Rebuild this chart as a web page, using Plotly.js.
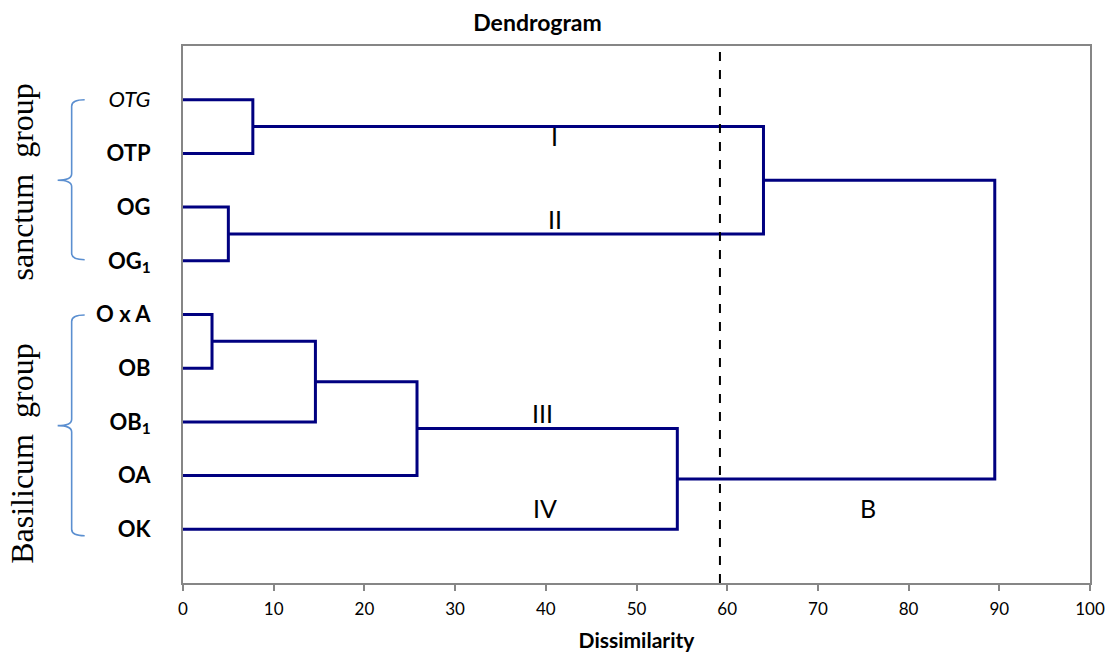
<!DOCTYPE html>
<html>
<head>
<meta charset="utf-8">
<script src="https://cdn.plot.ly/plotly-3.0.1.min.js"></script>
<style>html,body{margin:0;padding:0;background:#fff}#chart{width:1107px;height:652px}</style>
</head>
<body>
<div id="chart"></div>
<script>
// Leaves, top to bottom
const leafLabels = ['<i>OTG</i>','<b>OTP</b>','<b>OG</b>','<b>OG<sub>1</sub></b>','<b>O x A</b>','<b>OB</b>','<b>OB<sub>1</sub></b>','<b>OA</b>','<b>OK</b>'];
const leafPos = [9, 8, 7, 6, 5, 4, 3, 2, 1];
// Linkage: merge i joins nodes mergeA[i] and mergeB[i] at height mergeH[i]; new node id = 9 + i
const mergeA = [0, 2, 4, 11, 12, 13, 9, 15];
const mergeB = [1, 3, 5, 6, 7, 8, 10, 14];
const mergeH = [7.7, 5.0, 3.2, 14.6, 25.8, 54.5, 64.0, 89.5];
// Cut line
const cutLevel = 59.2;
// Cluster labels
const clusterText = ['I', 'II', 'III', 'IV', 'B'];
const clusterX = [41.0, 41.0, 39.6, 39.9, 75.5];
const clusterY = [8.33, 6.78, 3.17, 1.40, 1.40];
// Group labels
const groupText = ['sanctum  group', 'Basilicum  group'];

// Build dendrogram path
const nodeY = leafPos.slice();
const nodeH = leafPos.map(() => 0);
const xs = [], ys = [];
for (let i = 0; i < mergeA.length; i++) {
  const a = mergeA[i], b = mergeB[i], h = mergeH[i];
  xs.push(nodeH[a], h, h, nodeH[b], null);
  ys.push(nodeY[a], nodeY[a], nodeY[b], nodeY[b], null);
  nodeY.push((nodeY[a] + nodeY[b]) / 2);
  nodeH.push(h);
}

const trace = {
  x: xs, y: ys, mode: 'lines', type: 'scatter',
  line: {color: '#000080', width: 3}, hoverinfo: 'skip', showlegend: false
};

// Brace geometry (pixels -> paper x)
const plotL = 183.3, plotW = 906.7;
const px = p => (p - plotL) / plotW;
function brace(yTop, yMid, yBot) {
  const xa = px(85), xb = px(72), xc = px(58);
  const d = 0.12;
  return `M ${xa},${yTop} Q ${xb},${yTop} ${xb},${yTop - d} L ${xb},${yMid + d} Q ${xb},${yMid} ${xc},${yMid} ` +
         `Q ${xb},${yMid} ${xb},${yMid - d} L ${xb},${yBot + d} Q ${xb},${yBot} ${xa},${yBot}`;
}

const shapes = [
  {type: 'line', xref: 'x', yref: 'paper', x0: cutLevel, x1: cutLevel, y0: 0, y1: 1,
   line: {color: '#000', width: 2, dash: 'dash'}},
  {type: 'path', xref: 'paper', yref: 'y', path: brace(9.0, 7.5, 6.02), line: {color: '#5b8fd0', width: 1.6}},
  {type: 'path', xref: 'paper', yref: 'y', path: brace(4.99, 2.93, 0.88), line: {color: '#5b8fd0', width: 1.6}}
];

const annotations = clusterText.map((t, i) => ({
  x: clusterX[i], y: clusterY[i], xref: 'x', yref: 'y', text: t, showarrow: false,
  font: {family: 'Lato, sans-serif', size: 25, color: '#000'}
}));
annotations.push(
  {x: px(22), y: 7.47, xref: 'paper', yref: 'y', text: groupText[0], textangle: -90, showarrow: false,
   xanchor: 'center', yanchor: 'middle',
   font: {family: 'Liberation Serif, serif', size: 32, color: '#000'}},
  {x: px(22), y: 2.4, xref: 'paper', yref: 'y', text: groupText[1], textangle: -90, showarrow: false,
   xanchor: 'center', yanchor: 'middle',
   font: {family: 'Liberation Serif, serif', size: 32, color: '#000'}}
);

const layout = {
  width: 1107, height: 652,
  margin: {l: 183.3, r: 17, t: 46, b: 69},
  paper_bgcolor: '#fff', plot_bgcolor: '#fff',
  title: {text: '<b>Dendrogram</b>', x: 0.4856, xref: 'container', xanchor: 'center',
          y: 1 - 23 / 652, yref: 'container', yanchor: 'middle',
          font: {family: 'Lato, sans-serif', size: 23, color: '#000'}},
  xaxis: {
    range: [0, 100], tickvals: [0,10,20,30,40,50,60,70,80,90,100],
    showgrid: false, zeroline: false, showline: true, mirror: true,
    linecolor: '#868686', linewidth: 2, ticks: 'outside', ticklen: 6, tickcolor: '#868686', tickwidth: 2,
    ticklabelstandoff: 4,
    tickfont: {family: 'Lato, sans-serif', size: 17, color: '#000'},
    title: {text: '<b>Dissimilarity</b>', standoff: 18, font: {family: 'Lato, sans-serif', size: 21, color: '#000'}}
  },
  yaxis: {
    range: [0, 10], tickvals: leafPos, ticktext: leafLabels,
    showgrid: false, zeroline: false, showline: true, mirror: true,
    linecolor: '#868686', linewidth: 2, ticks: '', ticklabelstandoff: 26,
    tickfont: {family: 'Lato, sans-serif', size: 22, color: '#000'}
  },
  shapes: shapes,
  annotations: annotations
};

Plotly.newPlot('chart', [trace], layout, {displayModeBar: false, staticPlot: true});
</script>
</body>
</html>
